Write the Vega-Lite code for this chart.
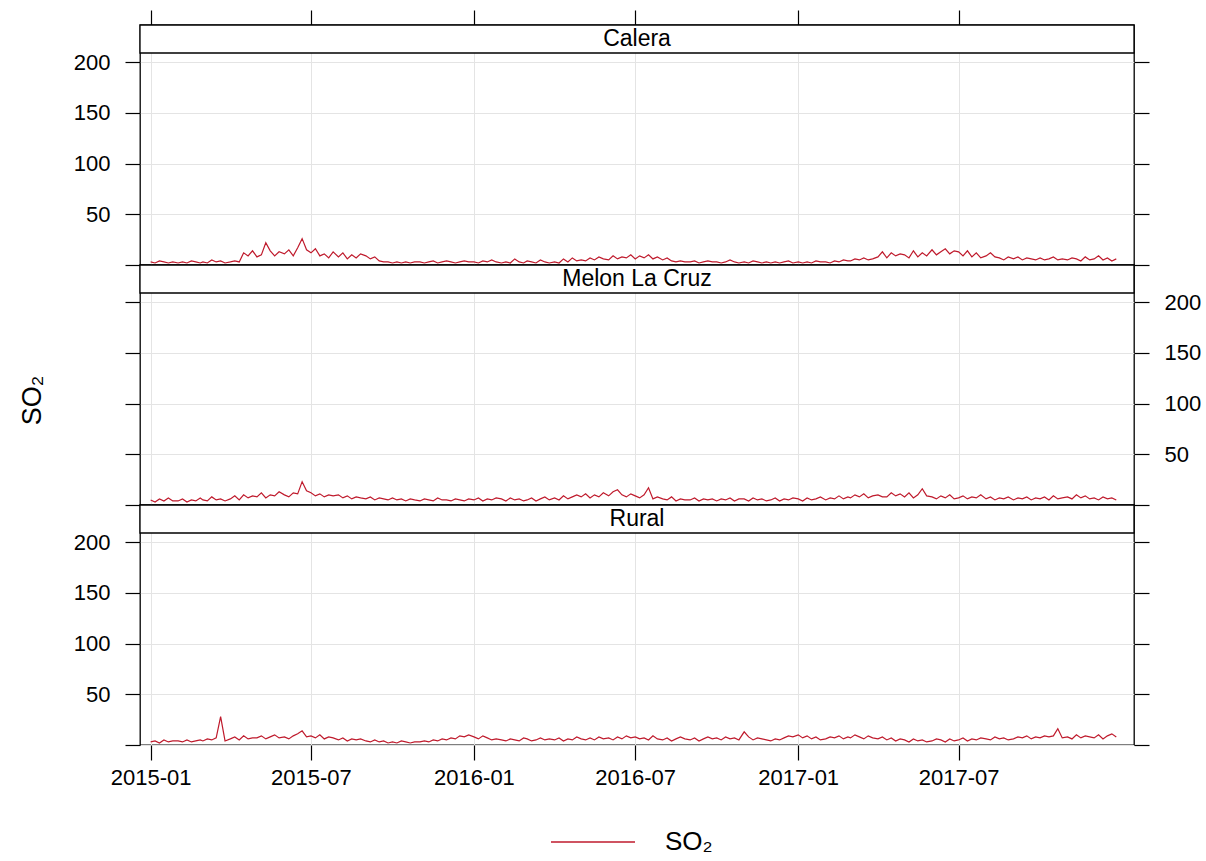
{
"$schema":"https://vega.github.io/schema/vega-lite/v6.json",
"padding":{"left":17,"top":8,"right":3,"bottom":0},
"spacing":0,
"bounds":"flush",
"config":{"view":{"stroke":"black","strokeWidth":1.3},"font":"Liberation Sans",
"axis":{"domain":false,"tickColor":"black","tickSize":15,"tickWidth":1.2,"labelFont":"Liberation Sans","labelFontSize":22,"labelColor":"black","gridColor":"#e4e4e4","gridWidth":1,"labelPadding":15,"titleFont":"Liberation Sans","titleFontWeight":"normal","titleColor":"black"}},
"data":{"values":[
{"d":"2015-01-01","C":3,"M":5,"R":3},{"d":"2015-01-06","C":2,"M":3,"R":4},{"d":"2015-01-11","C":4,"M":6,"R":2},{"d":"2015-01-16","C":3,"M":4,"R":5},{"d":"2015-01-21","C":2,"M":7,"R":3},{"d":"2015-01-26","C":3,"M":4,"R":4},
{"d":"2015-02-01","C":2,"M":4,"R":4},{"d":"2015-02-06","C":3,"M":6,"R":3},{"d":"2015-02-11","C":2,"M":3,"R":5},{"d":"2015-02-16","C":4,"M":5,"R":3},{"d":"2015-02-21","C":3,"M":4,"R":4},{"d":"2015-02-26","C":2,"M":7,"R":5},
{"d":"2015-03-01","C":3,"M":5,"R":4},{"d":"2015-03-06","C":2,"M":4,"R":6},{"d":"2015-03-11","C":5,"M":8,"R":5},{"d":"2015-03-16","C":3,"M":5,"R":7},{"d":"2015-03-21","C":4,"M":6,"R":28},{"d":"2015-03-26","C":2,"M":4,"R":4},
{"d":"2015-04-01","C":3,"M":6,"R":6},{"d":"2015-04-06","C":4,"M":9,"R":8},{"d":"2015-04-11","C":3,"M":5,"R":5},{"d":"2015-04-16","C":12,"M":10,"R":9},{"d":"2015-04-21","C":9,"M":7,"R":6},{"d":"2015-04-26","C":14,"M":9,"R":7},
{"d":"2015-05-01","C":8,"M":8,"R":7},{"d":"2015-05-06","C":10,"M":12,"R":9},{"d":"2015-05-11","C":22,"M":7,"R":6},{"d":"2015-05-16","C":14,"M":10,"R":8},{"d":"2015-05-21","C":9,"M":9,"R":10},{"d":"2015-05-26","C":13,"M":13,"R":7},
{"d":"2015-06-01","C":11,"M":10,"R":8},{"d":"2015-06-06","C":15,"M":8,"R":6},{"d":"2015-06-11","C":9,"M":12,"R":9},{"d":"2015-06-16","C":17,"M":11,"R":11},{"d":"2015-06-21","C":26,"M":23,"R":14},{"d":"2015-06-26","C":15,"M":14,"R":8},
{"d":"2015-07-01","C":12,"M":12,"R":9},{"d":"2015-07-06","C":16,"M":9,"R":7},{"d":"2015-07-11","C":9,"M":11,"R":10},{"d":"2015-07-16","C":11,"M":8,"R":6},{"d":"2015-07-21","C":7,"M":10,"R":8},{"d":"2015-07-26","C":13,"M":9,"R":7},
{"d":"2015-08-01","C":8,"M":10,"R":5},{"d":"2015-08-06","C":12,"M":7,"R":7},{"d":"2015-08-11","C":6,"M":9,"R":4},{"d":"2015-08-16","C":10,"M":6,"R":6},{"d":"2015-08-21","C":7,"M":8,"R":5},{"d":"2015-08-26","C":11,"M":7,"R":6},
{"d":"2015-09-01","C":9,"M":6,"R":4},{"d":"2015-09-06","C":6,"M":8,"R":3},{"d":"2015-09-11","C":8,"M":5,"R":5},{"d":"2015-09-16","C":4,"M":7,"R":3},{"d":"2015-09-21","C":3,"M":6,"R":4},{"d":"2015-09-26","C":3,"M":5,"R":2},
{"d":"2015-10-01","C":2,"M":7,"R":3},{"d":"2015-10-06","C":3,"M":5,"R":2},{"d":"2015-10-11","C":2,"M":6,"R":4},{"d":"2015-10-16","C":3,"M":4,"R":3},{"d":"2015-10-21","C":2,"M":6,"R":2},{"d":"2015-10-26","C":3,"M":5,"R":3},
{"d":"2015-11-01","C":3,"M":4,"R":3},{"d":"2015-11-06","C":2,"M":6,"R":4},{"d":"2015-11-11","C":3,"M":5,"R":3},{"d":"2015-11-16","C":4,"M":4,"R":5},{"d":"2015-11-21","C":2,"M":7,"R":4},{"d":"2015-11-26","C":3,"M":5,"R":6},
{"d":"2015-12-01","C":4,"M":5,"R":5},{"d":"2015-12-06","C":3,"M":4,"R":7},{"d":"2015-12-11","C":2,"M":6,"R":6},{"d":"2015-12-16","C":3,"M":5,"R":9},{"d":"2015-12-21","C":4,"M":4,"R":8},{"d":"2015-12-26","C":3,"M":6,"R":10},
{"d":"2016-01-01","C":3,"M":5,"R":8},{"d":"2016-01-06","C":2,"M":7,"R":6},{"d":"2016-01-11","C":4,"M":4,"R":9},{"d":"2016-01-16","C":3,"M":6,"R":7},{"d":"2016-01-21","C":5,"M":5,"R":5},{"d":"2016-01-26","C":3,"M":7,"R":6},
{"d":"2016-02-01","C":2,"M":6,"R":5},{"d":"2016-02-06","C":3,"M":4,"R":4},{"d":"2016-02-11","C":2,"M":7,"R":6},{"d":"2016-02-16","C":6,"M":5,"R":5},{"d":"2016-02-21","C":3,"M":6,"R":4},{"d":"2016-02-26","C":2,"M":4,"R":7},
{"d":"2016-03-01","C":4,"M":5,"R":6},{"d":"2016-03-06","C":3,"M":7,"R":4},{"d":"2016-03-11","C":2,"M":4,"R":5},{"d":"2016-03-16","C":5,"M":6,"R":7},{"d":"2016-03-21","C":3,"M":8,"R":5},{"d":"2016-03-26","C":2,"M":5,"R":6},
{"d":"2016-04-01","C":3,"M":7,"R":5},{"d":"2016-04-06","C":2,"M":5,"R":7},{"d":"2016-04-11","C":6,"M":9,"R":4},{"d":"2016-04-16","C":3,"M":6,"R":6},{"d":"2016-04-21","C":7,"M":8,"R":5},{"d":"2016-04-26","C":4,"M":10,"R":8},
{"d":"2016-05-01","C":5,"M":8,"R":6},{"d":"2016-05-06","C":4,"M":11,"R":5},{"d":"2016-05-11","C":7,"M":7,"R":7},{"d":"2016-05-16","C":5,"M":10,"R":5},{"d":"2016-05-21","C":8,"M":8,"R":8},{"d":"2016-05-26","C":6,"M":12,"R":6},
{"d":"2016-06-01","C":5,"M":9,"R":7},{"d":"2016-06-06","C":9,"M":13,"R":5},{"d":"2016-06-11","C":6,"M":15,"R":8},{"d":"2016-06-16","C":8,"M":10,"R":6},{"d":"2016-06-21","C":7,"M":8,"R":9},{"d":"2016-06-26","C":10,"M":11,"R":7},
{"d":"2016-07-01","C":6,"M":9,"R":8},{"d":"2016-07-06","C":9,"M":7,"R":6},{"d":"2016-07-11","C":7,"M":10,"R":7},{"d":"2016-07-16","C":10,"M":17,"R":5},{"d":"2016-07-21","C":6,"M":6,"R":9},{"d":"2016-07-26","C":8,"M":8,"R":6},
{"d":"2016-08-01","C":5,"M":6,"R":5},{"d":"2016-08-06","C":7,"M":5,"R":7},{"d":"2016-08-11","C":4,"M":8,"R":4},{"d":"2016-08-16","C":3,"M":4,"R":6},{"d":"2016-08-21","C":4,"M":6,"R":8},{"d":"2016-08-26","C":3,"M":5,"R":6},
{"d":"2016-09-01","C":3,"M":5,"R":5},{"d":"2016-09-06","C":4,"M":7,"R":7},{"d":"2016-09-11","C":2,"M":4,"R":4},{"d":"2016-09-16","C":3,"M":6,"R":6},{"d":"2016-09-21","C":4,"M":5,"R":8},{"d":"2016-09-26","C":3,"M":6,"R":6},
{"d":"2016-10-01","C":3,"M":4,"R":7},{"d":"2016-10-06","C":2,"M":6,"R":5},{"d":"2016-10-11","C":3,"M":5,"R":8},{"d":"2016-10-16","C":5,"M":7,"R":6},{"d":"2016-10-21","C":3,"M":4,"R":7},{"d":"2016-10-26","C":2,"M":6,"R":5},
{"d":"2016-11-01","C":3,"M":6,"R":13},{"d":"2016-11-06","C":2,"M":4,"R":8},{"d":"2016-11-11","C":4,"M":7,"R":5},{"d":"2016-11-16","C":3,"M":5,"R":7},{"d":"2016-11-21","C":2,"M":6,"R":6},{"d":"2016-11-26","C":3,"M":4,"R":5},
{"d":"2016-12-01","C":2,"M":5,"R":4},{"d":"2016-12-06","C":3,"M":7,"R":6},{"d":"2016-12-11","C":2,"M":4,"R":5},{"d":"2016-12-16","C":3,"M":6,"R":7},{"d":"2016-12-21","C":4,"M":5,"R":9},{"d":"2016-12-26","C":2,"M":7,"R":8},
{"d":"2017-01-01","C":3,"M":6,"R":10},{"d":"2017-01-06","C":2,"M":4,"R":7},{"d":"2017-01-11","C":3,"M":7,"R":9},{"d":"2017-01-16","C":2,"M":5,"R":6},{"d":"2017-01-21","C":4,"M":6,"R":8},{"d":"2017-01-26","C":3,"M":8,"R":5},
{"d":"2017-02-01","C":3,"M":5,"R":6},{"d":"2017-02-06","C":2,"M":7,"R":8},{"d":"2017-02-11","C":4,"M":6,"R":7},{"d":"2017-02-16","C":3,"M":9,"R":9},{"d":"2017-02-21","C":5,"M":6,"R":6},{"d":"2017-02-26","C":4,"M":8,"R":8},
{"d":"2017-03-01","C":4,"M":7,"R":7},{"d":"2017-03-06","C":6,"M":10,"R":10},{"d":"2017-03-11","C":5,"M":8,"R":8},{"d":"2017-03-16","C":7,"M":11,"R":6},{"d":"2017-03-21","C":5,"M":7,"R":9},{"d":"2017-03-26","C":6,"M":9,"R":7},
{"d":"2017-04-01","C":8,"M":10,"R":6},{"d":"2017-04-06","C":13,"M":8,"R":8},{"d":"2017-04-11","C":7,"M":8,"R":5},{"d":"2017-04-16","C":12,"M":12,"R":7},{"d":"2017-04-21","C":9,"M":9,"R":4},{"d":"2017-04-26","C":11,"M":11,"R":6},
{"d":"2017-05-01","C":10,"M":8,"R":5},{"d":"2017-05-06","C":7,"M":12,"R":3},{"d":"2017-05-11","C":14,"M":7,"R":6},{"d":"2017-05-16","C":8,"M":10,"R":4},{"d":"2017-05-21","C":12,"M":16,"R":5},{"d":"2017-05-26","C":9,"M":9,"R":3},
{"d":"2017-06-01","C":15,"M":8,"R":4},{"d":"2017-06-06","C":10,"M":6,"R":6},{"d":"2017-06-11","C":13,"M":9,"R":5},{"d":"2017-06-16","C":16,"M":7,"R":3},{"d":"2017-06-21","C":11,"M":10,"R":6},{"d":"2017-06-26","C":14,"M":6,"R":4},
{"d":"2017-07-01","C":13,"M":7,"R":5},{"d":"2017-07-06","C":9,"M":9,"R":7},{"d":"2017-07-11","C":14,"M":6,"R":4},{"d":"2017-07-16","C":8,"M":8,"R":6},{"d":"2017-07-21","C":12,"M":7,"R":5},{"d":"2017-07-26","C":7,"M":10,"R":7},
{"d":"2017-08-01","C":9,"M":6,"R":6},{"d":"2017-08-06","C":12,"M":8,"R":5},{"d":"2017-08-11","C":8,"M":5,"R":8},{"d":"2017-08-16","C":7,"M":7,"R":6},{"d":"2017-08-21","C":5,"M":6,"R":7},{"d":"2017-08-26","C":8,"M":8,"R":5},
{"d":"2017-09-01","C":6,"M":5,"R":6},{"d":"2017-09-06","C":8,"M":7,"R":8},{"d":"2017-09-11","C":5,"M":6,"R":7},{"d":"2017-09-16","C":7,"M":8,"R":9},{"d":"2017-09-21","C":6,"M":5,"R":6},{"d":"2017-09-26","C":5,"M":7,"R":8},
{"d":"2017-10-01","C":7,"M":6,"R":7},{"d":"2017-10-06","C":5,"M":8,"R":9},{"d":"2017-10-11","C":6,"M":5,"R":8},{"d":"2017-10-16","C":8,"M":9,"R":9},{"d":"2017-10-21","C":5,"M":6,"R":16},{"d":"2017-10-26","C":6,"M":7,"R":7},
{"d":"2017-11-01","C":5,"M":8,"R":8},{"d":"2017-11-06","C":7,"M":6,"R":6},{"d":"2017-11-11","C":6,"M":10,"R":10},{"d":"2017-11-16","C":4,"M":7,"R":7},{"d":"2017-11-21","C":8,"M":9,"R":9},{"d":"2017-11-26","C":5,"M":6,"R":8},
{"d":"2017-12-01","C":6,"M":7,"R":7},{"d":"2017-12-06","C":9,"M":5,"R":10},{"d":"2017-12-11","C":5,"M":8,"R":6},{"d":"2017-12-16","C":7,"M":6,"R":9},{"d":"2017-12-21","C":4,"M":7,"R":11},{"d":"2017-12-26","C":6,"M":5,"R":8}
]},
"vconcat":[
{"width":994,"height":240,
"layer":[
{"mark":{"type":"line","strokeWidth":1.2},
"encoding":{
"x":{"field":"d","type":"temporal","scale":{"type":"utc","nice":false,"domain":[{"year":2014,"month":12,"date":20,"utc":true},{"year":2018,"month":1,"date":15,"utc":true}]},
"axis":{"orient":"top","labels":false,"grid":true,"title":null,"values":[{"year":2015,"month":1,"date":1,"utc":true},{"year":2015,"month":7,"date":1,"utc":true},{"year":2016,"month":1,"date":1,"utc":true},{"year":2016,"month":7,"date":1,"utc":true},{"year":2017,"month":1,"date":1,"utc":true},{"year":2017,"month":7,"date":1,"utc":true}]}},
"y":{"field":"C","type":"quantitative","scale":{"domain":[0,236.6],"nice":false},"axis":{"orient":"left","values":[0,50,100,150,200],"labelExpr":"datum.value==0?'':datum.label","grid":true,"title":null}},
"color":{"datum":"SO₂","scale":{"range":["#bf1a2c"]},"legend":{"orient":"none","legendX":440,"legendY":804,"title":null,"symbolType":"M-4,0H4","symbolSize":441,"symbolStrokeWidth":1.5,"labelFontSize":26,"labelFont":"Liberation Sans","labelColor":"black","labelOffset":59}}
}},
{"data":{"values":[{}]},"mark":{"type":"rect","fill":"white","stroke":"black","strokeWidth":1.3},
"encoding":{"y":{"datum":209,"type":"quantitative","axis":{"orient":"right","values":[0,50,100,150,200],"labels":false,"grid":false,"title":null}},"y2":{"datum":236.6}}},
{"data":{"values":[{}]},"mark":{"type":"text","fontSize":23,"font":"Liberation Sans","baseline":"middle","align":"center","color":"black"},
"encoding":{"y":{"datum":222.8,"type":"quantitative","axis":null},"text":{"value":"Calera"}}}
],
"resolve":{"axis":{"y":"independent"}}},
{"width":994,"height":240,
"layer":[
{"mark":{"type":"line","strokeWidth":1.2,"color":"#bf1a2c"},
"encoding":{
"x":{"field":"d","type":"temporal","scale":{"type":"utc","nice":false,"domain":[{"year":2014,"month":12,"date":20,"utc":true},{"year":2018,"month":1,"date":15,"utc":true}]},
"axis":{"orient":"bottom","labels":false,"ticks":false,"grid":true,"title":null,"values":[{"year":2015,"month":1,"date":1,"utc":true},{"year":2015,"month":7,"date":1,"utc":true},{"year":2016,"month":1,"date":1,"utc":true},{"year":2016,"month":7,"date":1,"utc":true},{"year":2017,"month":1,"date":1,"utc":true},{"year":2017,"month":7,"date":1,"utc":true}]}},
"y":{"field":"M","type":"quantitative","scale":{"domain":[0,236.6],"nice":false},"axis":{"orient":"left","values":[0,50,100,150,200],"labels":false,"grid":true,"title":"SO₂","titleFontSize":27,"titlePadding":78,"titleY":135}}
}},
{"data":{"values":[{}]},"mark":{"type":"rect","fill":"white","stroke":"black","strokeWidth":1.3},
"encoding":{"y":{"datum":209,"type":"quantitative","axis":{"orient":"right","values":[0,50,100,150,200],"labelExpr":"datum.value==0?'':datum.label","grid":false,"title":null}},"y2":{"datum":236.6}}},
{"data":{"values":[{}]},"mark":{"type":"text","fontSize":23,"font":"Liberation Sans","baseline":"middle","align":"center","color":"black"},
"encoding":{"y":{"datum":222.8,"type":"quantitative","axis":null},"text":{"value":"Melon La Cruz"}}}
],
"resolve":{"axis":{"y":"independent"}}},
{"width":994,"height":240,
"layer":[
{"mark":{"type":"line","strokeWidth":1.2,"color":"#bf1a2c"},
"encoding":{
"x":{"field":"d","type":"temporal","scale":{"type":"utc","nice":false,"domain":[{"year":2014,"month":12,"date":20,"utc":true},{"year":2018,"month":1,"date":15,"utc":true}]},
"axis":{"orient":"bottom","format":"%Y-%m","labelPadding":7,"grid":true,"title":null,"values":[{"year":2015,"month":1,"date":1,"utc":true},{"year":2015,"month":7,"date":1,"utc":true},{"year":2016,"month":1,"date":1,"utc":true},{"year":2016,"month":7,"date":1,"utc":true},{"year":2017,"month":1,"date":1,"utc":true},{"year":2017,"month":7,"date":1,"utc":true}]}},
"y":{"field":"R","type":"quantitative","scale":{"domain":[0,236.6],"nice":false},"axis":{"orient":"left","values":[0,50,100,150,200],"labelExpr":"datum.value==0?'':datum.label","grid":true,"title":null}}
}},
{"data":{"values":[{}]},"mark":{"type":"rect","fill":"white","stroke":"black","strokeWidth":1.3},
"encoding":{"y":{"datum":209,"type":"quantitative","axis":{"orient":"right","values":[0,50,100,150,200],"labels":false,"grid":false,"title":null}},"y2":{"datum":236.6}}},
{"data":{"values":[{}]},"mark":{"type":"text","fontSize":23,"font":"Liberation Sans","baseline":"middle","align":"center","color":"black"},
"encoding":{"y":{"datum":222.8,"type":"quantitative","axis":null},"text":{"value":"Rural"}}}
],
"resolve":{"axis":{"y":"independent"}}}
]
}
